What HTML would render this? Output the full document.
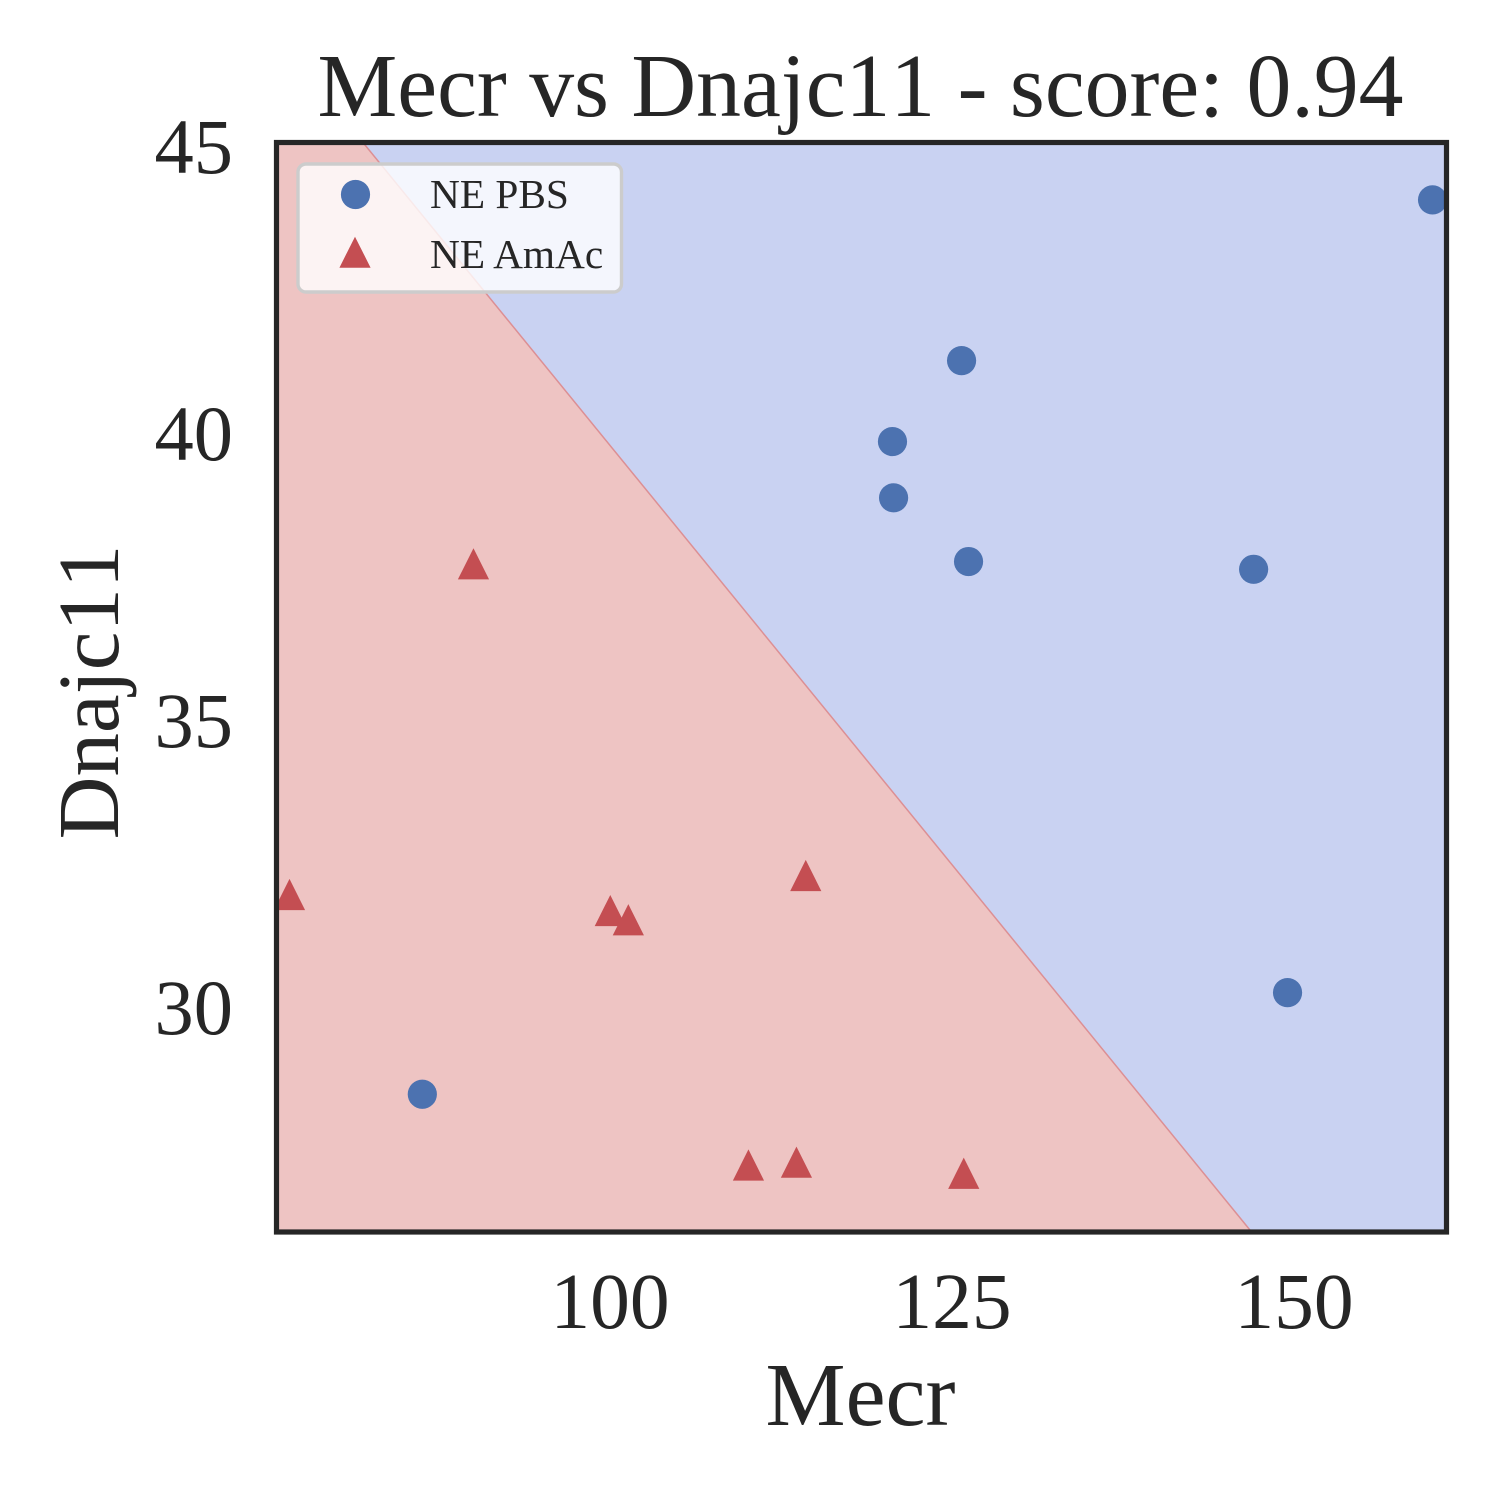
<!DOCTYPE html>
<html lang="en">
<head>
<meta charset="utf-8">
<title>Mecr vs Dnajc11 - score: 0.94</title>
<style>
html,body{margin:0;padding:0;background:#fff;width:1500px;height:1500px;overflow:hidden}
svg{display:block}
text{font-family:"Liberation Serif","Times New Roman",serif;fill:#262626}
.nokern{font-kerning:none}
</style>
</head>
<body>
<svg id="chart" xmlns="http://www.w3.org/2000/svg" width="1500" height="1500" viewBox="0 0 1500 1500">
  <defs>
    <clipPath id="plot-clip"><rect x="276.5" y="142.5" width="1170" height="1089.5"/></clipPath>
  </defs>
  <rect x="0" y="0" width="1500" height="1500" fill="#ffffff"/>
  <g id="plot" clip-path="url(#plot-clip)"></g>
  <rect x="276.5" y="142.5" width="1170" height="1089.5" fill="none" stroke="#262626" stroke-width="5.2"/>
  <g id="x-ticks"></g>
  <g id="y-ticks"></g>
  <text class="nokern" x="860.5" y="116" font-size="89.7" text-anchor="middle">Mecr vs Dnajc11 - score: 0.94</text>
  <text class="nokern" x="860.5" y="1425" font-size="90" text-anchor="middle">Mecr</text>
  <text class="nokern" transform="translate(118 692) rotate(-90)" font-size="87" text-anchor="middle">Dnajc11</text>
  <g>
    <rect x="298" y="164" width="323.5" height="128" rx="8" ry="8" fill="#ffffff" fill-opacity="0.8" stroke="#cccccc" stroke-width="3.4"/>
    <circle cx="355.5" cy="194.5" r="14.6" fill="#4c72b0"/>
    <text x="430" y="208" font-size="41.3">NE PBS</text>
    <polygon points="355,236.7 370.6,267.7 339.4,267.7" fill="#c44e52"/>
    <text x="430" y="268" font-size="41.3">NE AmAc</text>
  </g>
</svg>
<script>
const xLimits = [75.62, 161.15];
const yLimits = [26.15, 45.13];
const xTickValues = [100, 125, 150];
const yTickValues = [30, 35, 40, 45];
const pbsX = [160.13, 125.70, 120.65, 120.73, 126.21, 147.05, 149.53, 86.28];
const pbsY = [44.13, 41.33, 39.92, 38.94, 37.83, 37.695, 30.32, 28.55];
const amacX = [76.57, 90.02, 100.02, 101.34, 114.31, 110.12, 113.63, 125.86];
const amacY = [32.03, 37.79, 31.75, 31.59, 32.36, 27.317, 27.366, 27.174];
const boundaryX = [81.94, 146.9];
const boundaryY = [45.13, 26.15];

const NS = 'http://www.w3.org/2000/svg';
const PLOT_LEFT = 276.5, PLOT_RIGHT = 1446.5, PLOT_TOP = 142.5, PLOT_BOTTOM = 1232;

function xScale(v) {
  return PLOT_LEFT + (v - xLimits[0]) / (xLimits[1] - xLimits[0]) * (PLOT_RIGHT - PLOT_LEFT);
}
function yScale(v) {
  return PLOT_BOTTOM - (v - yLimits[0]) / (yLimits[1] - yLimits[0]) * (PLOT_BOTTOM - PLOT_TOP);
}
function make(tag, attrs, parent) {
  const el = document.createElementNS(NS, tag);
  for (const k in attrs) el.setAttribute(k, attrs[k]);
  parent.appendChild(el);
  return el;
}

const plot = document.getElementById('plot');

const blueRegion = make('rect', {x: PLOT_LEFT, y: PLOT_TOP, width: PLOT_RIGHT - PLOT_LEFT, height: PLOT_BOTTOM - PLOT_TOP, fill: '#c9d2f2'}, plot);



const x0 = xScale(boundaryX[0]), y0 = yScale(boundaryY[0]);
const x1 = xScale(boundaryX[1]), y1 = yScale(boundaryY[1]);

const redRegion = make('polygon', {points: PLOT_LEFT + ',' + PLOT_TOP + ' ' + x0 + ',' + y0 + ' ' + x1 + ',' + y1 + ' ' + PLOT_LEFT + ',' + PLOT_BOTTOM, fill: '#eec4c3'}, plot);



const boundary = make('line', {x1: x0, y1: y0, x2: x1, y2: y1, stroke: '#dc8f94', 'stroke-width': 1.5}, plot);



pbsX.forEach(function (v, i) {
  const dot = make('circle', {cx: xScale(v), cy: yScale(pbsY[i]), r: 14.6, fill: '#4c72b0'}, plot);
  
  
});

amacX.forEach(function (v, i) {
  const cx = xScale(v), cy = yScale(amacY[i]);
  const pts = cx + ',' + (cy - 15.6) + ' ' + (cx + 15.6) + ',' + (cy + 15.6) + ' ' + (cx - 15.6) + ',' + (cy + 15.6);
  const tri = make('polygon', {points: pts, fill: '#c44e52'}, plot);
  
  
});

const xTicks = document.getElementById('x-ticks');
xTickValues.forEach(function (v) {
  const t = make('text', {x: xScale(v), y: 1328, 'font-size': 79.5, 'text-anchor': 'middle', 'class': 'nokern'}, xTicks);
  
  
  t.textContent = String(v);
});

const yTicks = document.getElementById('y-ticks');
yTickValues.forEach(function (v) {
  const t = make('text', {x: 233, y: yScale(v) + 23, 'font-size': 78.5, 'text-anchor': 'end', 'class': 'nokern'}, yTicks);
  
  
  t.textContent = String(v);
});
</script>
</body>
</html>
